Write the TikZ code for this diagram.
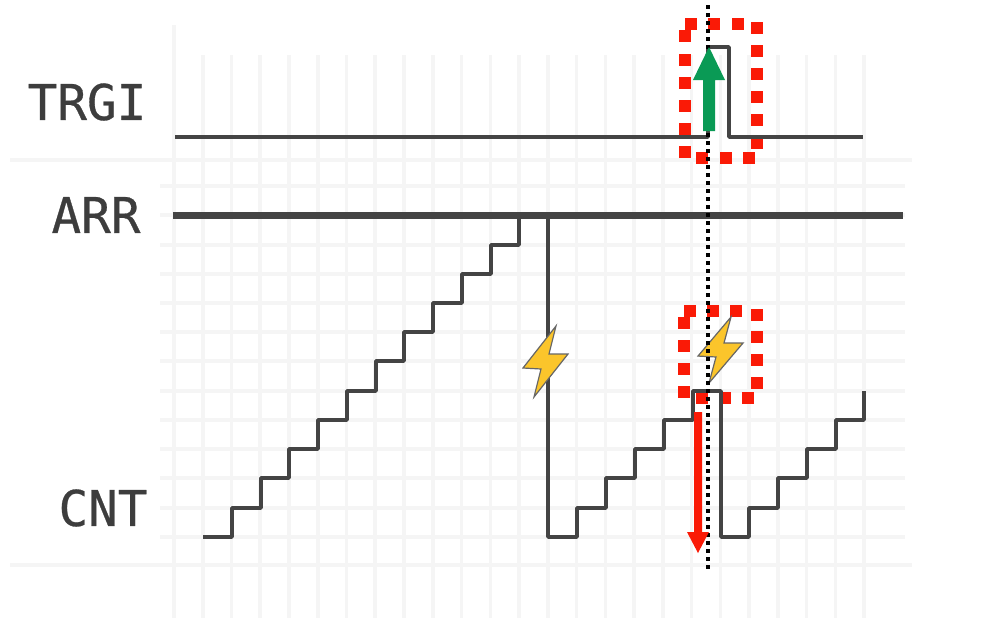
\documentclass[tikz,border=0pt]{standalone}
\usepackage{fontspec}
\setmonofont[BoldFont={DejaVu Sans Mono},BoldFeatures={FakeBold=0.6}]{DejaVu Sans Mono}
\usepackage{tikz}
\usetikzlibrary{shapes,arrows}

\definecolor{gridgray}{HTML}{F5F5F5}
\definecolor{linegray}{HTML}{444444}
\definecolor{boxred}{HTML}{FA1A06}
\definecolor{upgreen}{HTML}{0A9A55}
\definecolor{boltyellow}{HTML}{FBC52B}

\tikzset{
  gridline/.style={gridgray,line width=0.035cm},
  signal/.style={linegray,line width=0.035cm,line join=round},
  redsq/.style={boxred,line width=0.12cm},
  lbl/.style={font=\ttfamily\bfseries\fontsize{14}{14}\selectfont,text=linegray!90!black,inner sep=0pt},
  bolt/.pic={
    \draw[fill=boltyellow,draw=gray!80!black,line width=0.012cm]
      (0,0) -- (-7,28) -- (12,28) -- (-22,71) -- (-15,43) -- (-33,42) -- cycle;
  }
}

\begin{document}
\begin{tikzpicture}[x=0.01cm,y=-0.01cm]
  \useasboundingbox (0,0) rectangle (999,633);
  \fill[white] (0,0) rectangle (999,633);
  % grid
  \foreach \i in {1,...,24}
    \draw[gridline] ({174+28.75*\i},55) -- ({174+28.75*\i},618);
  \draw[gridline] (174,25) -- (174,618);
  \foreach \j in {186,215,245,274,303,332,361,391,420,449,478,508,537}
    \draw[gridline] (160,\j) -- (905,\j);
  \draw[gridline] (10,160) -- (912,160);
  \draw[gridline] (10,565) -- (912,565);
  % labels
  \node[lbl] (trgi) at (87,102) {TRGI};
  \node[lbl] (arr)  at (96,215) {ARR};
  \node[lbl] (cnt)  at (103,508) {CNT};
  % marker boxes, one square at a time
  \foreach \x/\y in {691/24,714/24,738/24,757/28,757/51,757/74,757/97,757/120,757/143,
                     749/158,726/158,702/158,685/152,685/129,685/106,685/83,685/60,685/36,
                     690/311,713/311,736/311,757/315,757/337,757/360,757/383,
                     748/398,725/398,702/398,684/392,684/369,684/346,684/323}
    \draw[redsq] (\x-6,\y) -- (\x+6,\y);
  % signals
  \draw[signal] (175,137) -- (708,137) -- (708,47) -- (729,47) -- (729,137) -- (863,137);
  \draw[signal,line width=0.07cm] (173,215) -- (903,215);
  \draw[signal] (203,537) -- (232,537) -- (232,508) -- (261,508) -- (261,478) -- (289,478)
    -- (289,449) -- (318,449) -- (318,420) -- (347,420) -- (347,391) -- (376,391)
    -- (376,361) -- (404,361) -- (404,332) -- (433,332) -- (433,303) -- (462,303)
    -- (462,274) -- (491,274) -- (491,245) -- (519,245) -- (519,215) -- (548,215)
    -- (548,537) -- (577,537) -- (577,508) -- (606,508) -- (606,478) -- (635,478)
    -- (635,449) -- (664,449) -- (664,420) -- (693,420) -- (693,391) -- (721,391)
    -- (721,537) -- (749,537) -- (749,508) -- (778,508) -- (778,478) -- (807,478)
    -- (807,449) -- (836,449) -- (836,420) -- (864,420) -- (864,391);
  % bolts
  \path (556,326) pic {bolt};
  \path (731,317) pic[yscale=0.93] {bolt};
  % time line
  \coordinate (top) at (708,5);
  \coordinate (bot) at (708,572);
  \draw[black,line width=0.04cm,dash pattern=on 0.04cm off 0.04cm] (top) -- (bot);
  % arrows
  \fill[upgreen] (703,131) -- (703,80) -- (693,80) -- (709,47) -- (725,80) -- (715,80) -- (715,131) -- cycle;
  \fill[boxred] (694,412) -- (694,532) -- (687,532) -- (698,553) -- (709,532) -- (702,532) -- (702,412) -- cycle;
\end{tikzpicture}
\end{document}
